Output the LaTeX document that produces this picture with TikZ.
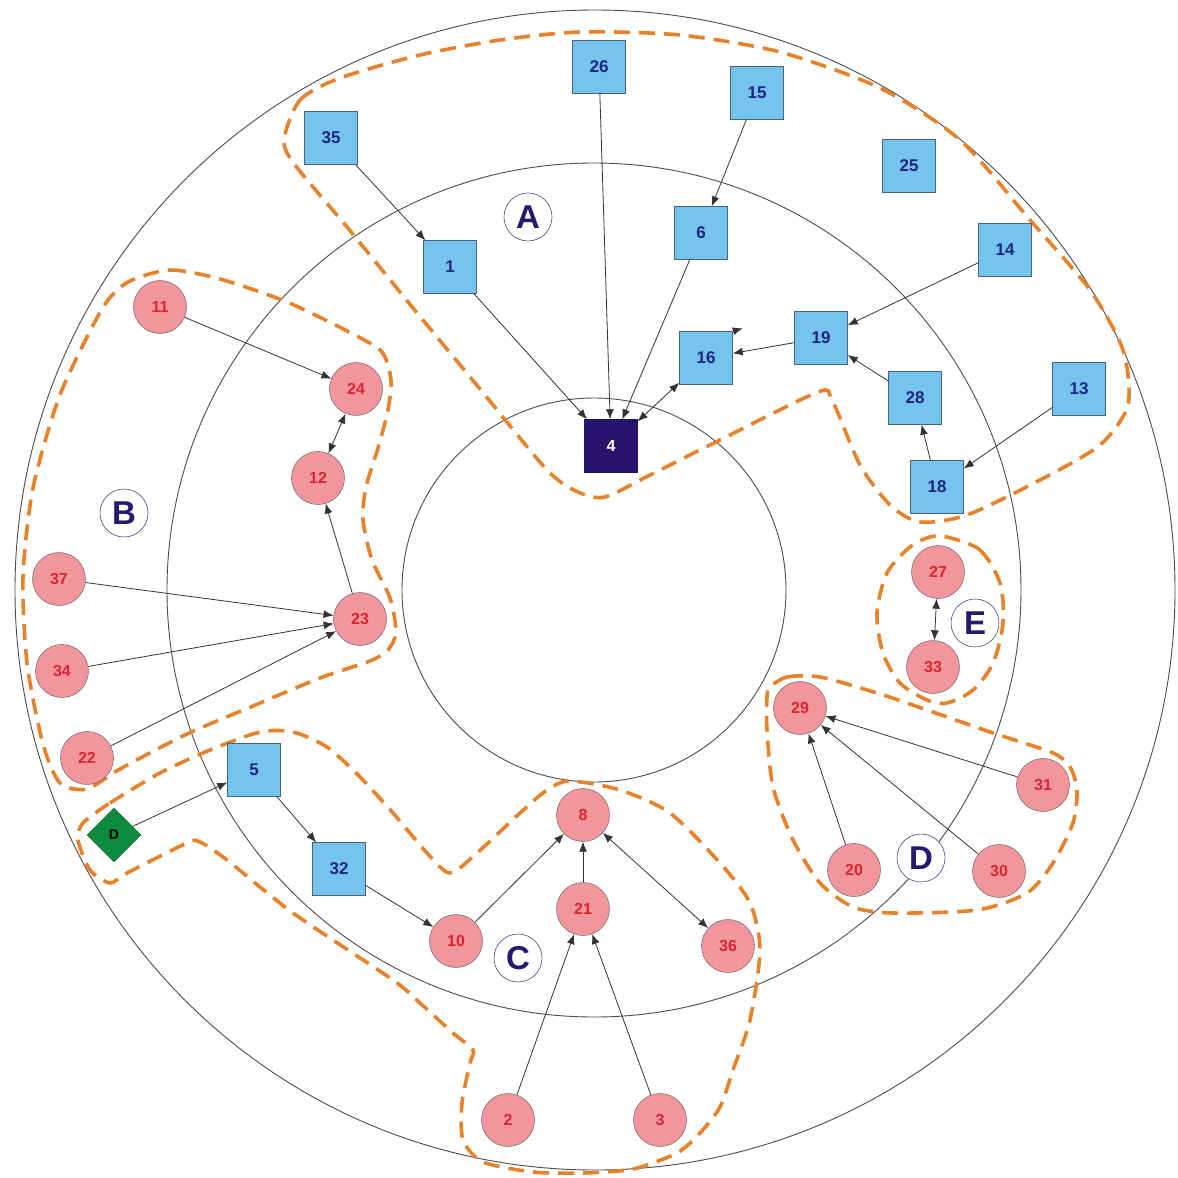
\documentclass[tikz,border=0pt]{standalone}
\usepackage{fontspec}
\setmainfont{Liberation Sans}
\usetikzlibrary{arrows.meta,shapes.geometric}
\definecolor{sqfill}{RGB}{116,196,238}
\definecolor{sqline}{RGB}{72,98,125}
\definecolor{sqtext}{RGB}{32,36,128}
\definecolor{rdfill}{RGB}{240,150,156}
\definecolor{rdline}{RGB}{95,80,82}
\definecolor{rdtext}{RGB}{222,36,48}
\definecolor{hubfill}{RGB}{38,20,110}
\definecolor{zonetext}{RGB}{40,22,112}
\definecolor{hullcol}{RGB}{232,130,42}
\definecolor{srcfill}{RGB}{12,138,62}
\tikzset{
  sqnode/.style={draw=sqline,fill=sqfill,text=sqtext,minimum size=53pt,inner sep=0pt,
    font=\fontsize{17}{17}\selectfont\bfseries},
  rdnode/.style={circle,draw=rdline,fill=rdfill,text=rdtext,minimum size=53pt,inner sep=0pt,
    font=\fontsize{16}{16}\selectfont\bfseries},
  hubnode/.style={draw=hubfill,fill=hubfill,text=white,minimum size=53pt,inner sep=0pt,
    font=\fontsize{16}{16}\selectfont\bfseries},
  zonelabel/.style={circle,draw=zonetext!80,fill=white,text=zonetext,minimum size=48pt,inner sep=0pt,
    line width=0.6pt,font=\fontsize{33}{33}\selectfont\bfseries},
  srcnode/.style={diamond,aspect=1,draw=srcfill!70!black,fill=srcfill,minimum width=54pt,
    minimum height=54pt,inner sep=0pt,font=\fontsize{14}{14}\selectfont\bfseries},
  link/.style={-{Latex[length=10pt,width=8pt]},line width=0.8pt,draw=black!80},
  twolink/.style={{Latex[length=10pt,width=8pt]}-{Latex[length=10pt,width=8pt]},line width=0.8pt,draw=black!80},
  hull/.style={draw=hullcol,line width=3.6pt,dash pattern=on 16pt off 9pt},
  ring/.style={draw=black!70,line width=0.9pt}
}
\begin{document}
\begin{tikzpicture}
[x=1pt,y=-1pt]
\useasboundingbox (0,0) rectangle (1178,1178);
\fill[white] (0,0) rectangle (1178,1178);

% rings
\draw[ring] (595,590) circle (580);
\draw[ring] (594,590) circle (427);
\draw[ring] (594,590) circle (192);

% groups
\draw[hull] plot[smooth cycle,tension=0.45] coordinates {(284,140) (300,100) (340,78) (420,55)
  (500,40) (580,32) (680,35) (780,52) (880,88) (960,140) (1030,220) (1090,290) (1123,350)
  (1128,405) (1100,445) (1040,480) (967,515) (920,522) (890,505) (860,465) (832,400) (818,392)
  (720,440) (650,475) (605,497) (578,492) (547,470) (480,389) (413,308) (347,227) (295,165)};
\draw[hull] plot[smooth cycle,tension=0.45] coordinates {(130,281) (170,270) (220,279) (287,302)
  (353,334) (382,352) (391,380) (388,410) (378,448) (366,487) (363,520) (372,560) (390,598)
  (396,632) (388,650) (370,661) (320,678) (253,706) (187,734) (120,769) (87,789) (60,783)
  (43,744) (27,663) (23,576) (33,488) (58,400) (87,337) (108,300)};
\draw[hull] plot[smooth cycle,tension=0.45] coordinates {(83,823) (110,803) (160,773) (210,750)
  (260,732) (293,732) (327,747) (360,777) (393,813) (427,853) (450,873) (477,853) (520,813)
  (547,790) (570,781) (620,790) (670,813) (720,863) (750,903) (760,950) (750,1020) (733,1070)
  (720,1107) (700,1133) (677,1153) (633,1169) (583,1173) (533,1172) (483,1162) (463,1140)
  (462,1103) (470,1063) (473,1050) (453,1033) (420,1003) (393,980) (293,913) (227,860)
  (200,842) (187,843) (127,873) (110,883) (90,870) (78,840)};
\draw[hull] plot[smooth cycle,tension=0.45] coordinates {(770,687) (787,677) (820,677) (877,693)
  (927,710) (993,733) (1053,753) (1070,767) (1077,790) (1073,823) (1053,863) (1027,893)
  (977,910) (893,913) (853,907) (820,883) (793,840) (773,787) (767,730) (767,697)};
\draw[hull] plot[smooth cycle,tension=0.5] coordinates {(947,537) (980,550) (1000,583)
  (1003,623) (993,663) (973,690) (947,703) (927,700) (900,683) (883,653) (877,613) (887,573)
  (910,547) (930,537)};

% squares
\node[sqnode] (n26) at (599,67) {26};
\node[sqnode] (n15) at (757,93) {15};
\node[sqnode] (n35) at (331,138) {35};
\node[sqnode] (n25) at (909,166) {25};
\node[sqnode] (n1) at (450,267) {1};
\node[sqnode] (n6) at (701,233) {6};
\node[sqnode] (n14) at (1005,250) {14};
\node[sqnode] (n19) at (821,338) {19};
\node[sqnode] (n16) at (706,358) {16};
\node[sqnode] (n28) at (915,398) {28};
\node[sqnode] (n13) at (1079,389) {13};
\node[sqnode] (n18) at (937,487) {18};
\node[sqnode] (n5) at (254,770) {5};
\node[sqnode] (n32) at (339,869) {32};
\node[hubnode] (n4) at (611,446) {4};

% circles
\node[rdnode] (n11) at (160,307) {11};
\node[rdnode] (n24) at (356,389) {24};
\node[rdnode] (n12) at (318,478) {12};
\node[rdnode] (n37) at (59,579) {37};
\node[rdnode] (n23) at (360,619) {23};
\node[rdnode] (n34) at (62,671) {34};
\node[rdnode] (n22) at (87,758) {22};
\node[rdnode] (n8) at (583,815) {8};
\node[rdnode] (n21) at (583,909) {21};
\node[rdnode] (n10) at (456,941) {10};
\node[rdnode] (n36) at (728,946) {36};
\node[rdnode] (n2) at (508,1120) {2};
\node[rdnode] (n3) at (660,1120) {3};
\node[rdnode] (n27) at (938,572) {27};
\node[rdnode] (n33) at (933,667) {33};
\node[rdnode] (n29) at (800,708) {29};
\node[rdnode] (n31) at (1043,785) {31};
\node[rdnode] (n20) at (854,870) {20};
\node[rdnode] (n30) at (999,871) {30};
\node[srcnode] (src) at (114,835) {D};

% zone letters
\node[zonelabel] (zA) at (528,217) {A};
\node[zonelabel] (zB) at (124,513) {B};
\node[zonelabel] (zC) at (518,958) {C};
\node[zonelabel] (zD) at (921,858) {D};
\node[zonelabel] (zE) at (975,623) {E};

% links
\draw[link] (n35) -- (n1);
\draw[link] (n26) -- (n4);
\draw[link] (n15) -- (n6);
\draw[link] (n1) -- (n4);
\draw[link] (n6) -- (n4);
\draw[twolink] (n16) -- (n4);
\draw[link] (n19) -- (n16);
\draw[link] (n16.north east) -- ++(10,-3);
\draw[link] (n14) -- (n19);
\draw[link] (n28) -- (n19);
\draw[link] (n18) -- (n28);
\draw[link] (n13) -- (n18);
\draw[link] (n11) -- (n24);
\draw[twolink] (n24) -- (n12);
\draw[link] (n23) -- (n12);
\draw[link] (n37) -- (n23);
\draw[link] (n34) -- (n23);
\draw[link] (n22) -- (n23);
\draw[link] (src) -- (n5);
\draw[link] (n5) -- (n32);
\draw[link] (n32) -- (n10);
\draw[link] (n10) -- (n8);
\draw[link] (n21) -- (n8);
\draw[twolink] (n8) -- (n36);
\draw[link] (n2) -- (n21);
\draw[link] (n3) -- (n21);
\draw[twolink] (n27) -- (n33);
\draw[link] (n31) -- (n29);
\draw[link] (n20) -- (n29);
\draw[link] (n30) -- (n29);
\end{tikzpicture}
\end{document}
